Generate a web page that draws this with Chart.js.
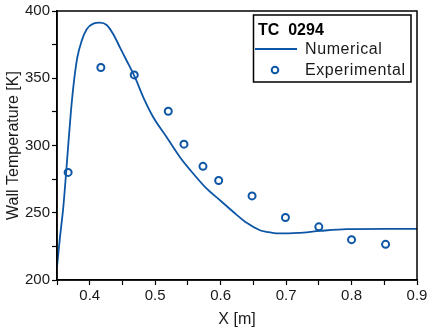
<!DOCTYPE html>
<html>
<head>
<meta charset="utf-8">
<script src="https://cdn.jsdelivr.net/npm/chart.js@4"></script>
<style>
  html, body { margin: 0; padding: 0; background: #fff; }
  #box { width: 431px; height: 333px; }
</style>
</head>
<body>
<div id="box"><canvas id="grafica"></canvas></div>
<script>
// datos
const num_x = [0.35, 0.3546, 0.3596, 0.3638, 0.3673, 0.3714, 0.376, 0.381, 0.3877, 0.3954, 0.4055, 0.4157, 0.4259, 0.436, 0.4463, 0.4565, 0.4692, 0.4819, 0.4971, 0.5176, 0.5379, 0.5583, 0.5787, 0.599, 0.6194, 0.6398, 0.66, 0.6704, 0.6877, 0.7182, 0.7518, 0.7926, 0.85, 0.9]
const num_y = [210, 232, 254, 279, 301, 326, 348, 365.4, 377.8, 386.4, 390.6, 391.3, 389.6, 382.7, 372.8, 363, 350.6, 335.8, 321, 306.2, 291.3, 279, 267.9, 259.3, 250.6, 242.5, 237, 235.8, 234.6, 235, 236.5, 237.8, 238, 238]
const exp_x = [0.367, 0.417, 0.468, 0.52, 0.544, 0.573, 0.597, 0.648, 0.699, 0.75, 0.8, 0.852]
const exp_y = [280, 358, 352.5, 325.5, 301, 284.5, 274, 262.5, 246.5, 239.5, 230, 226.5]
const x_ticks = [0.4, 0.5, 0.6, 0.7, 0.8, 0.9]
const y_ticks = [200, 250, 300, 350, 400]

const azul = '#0d56a6'
const texto = '#1a1a1a'
const fuente = "'Liberation Sans', Arial, sans-serif"

// marco del area y leyenda
const marco = {
    id: 'marco',
    afterDraw(chart) {
        const ctx = chart.ctx
        const a = chart.chartArea
        ctx.save()
        ctx.strokeStyle = '#000'
        ctx.lineWidth = 1.5
        ctx.strokeRect(a.left, a.top, a.right - a.left, a.bottom - a.top)

        // leyenda
        ctx.fillStyle = '#fff'
        ctx.fillRect(253.5, 15, 157.5, 67)
        ctx.strokeRect(253.5, 15, 157.5, 67)
        ctx.fillStyle = '#000'
        ctx.textBaseline = 'middle'
        ctx.font = "bold 16px " + fuente
        ctx.fillText('TC  0294', 258, 31)
        ctx.strokeStyle = azul
        ctx.lineWidth = 2
        ctx.beginPath()
        ctx.moveTo(255, 49)
        ctx.lineTo(297, 49)
        ctx.stroke()
        ctx.beginPath()
        ctx.arc(275, 70, 3.3, 0, Math.PI * 2)
        ctx.fillStyle = '#fff'
        ctx.fill()
        ctx.stroke()
        ctx.fillStyle = texto
        ctx.font = "16px " + fuente
        ctx.letterSpacing = '0.6px'
        ctx.fillText('Numerical', 305, 50)
        ctx.fillText('Experimental', 305, 71)
        ctx.restore()
    }
}

new Chart(document.getElementById('grafica'), {
    type: 'scatter',
    data: {
        datasets: [{
            label: 'Numerical',
            type: 'line',
            data: num_x.map((x, i) => ({x: x, y: num_y[i]})),
            borderColor: azul,
            borderWidth: 1.8,
            pointRadius: 0,
            cubicInterpolationMode: 'monotone',
            fill: false
        }, {
            label: 'Experimental',
            data: exp_x.map((x, i) => ({x: x, y: exp_y[i]})),
            borderColor: azul,
            backgroundColor: '#fff',
            borderWidth: 2,
            pointRadius: 3.5,
            pointStyle: 'circle'
        }]
    },
    options: {
        responsive: true,
        maintainAspectRatio: false,
        animation: false,
        layout: { padding: { top: 10, right: 14, left: 0, bottom: 0 } },
        scales: {
            x: {
                type: 'linear',
                min: 0.35,
                max: 0.9,
                afterFit: (s) => { s.height = 53 },
                afterBuildTicks: (s) => { s.ticks = [0.35, 0.4, 0.45, 0.5, 0.55, 0.6, 0.65, 0.7, 0.75, 0.8, 0.85, 0.9].map(v => ({value: v})) },
                ticks: {
                    color: texto,
                    font: { size: 15, family: fuente },
                    padding: 2,
                    maxRotation: 0,
                    autoSkip: false,
                    callback: (v) => {
                        const t = x_ticks.find(k => Math.abs(k - v) < 1e-6)
                        return t === undefined ? '' : t.toFixed(1)
                    }
                },
                grid: { drawOnChartArea: false, tickLength: 5, color: '#000', tickWidth: 1.2 },
                border: { color: '#000', width: 1.5 },
                title: { display: true, text: 'X [m]', color: texto, font: { size: 16, family: fuente }, padding: { top: 2 } }
            },
            y: {
                min: 200,
                max: 400,
                afterFit: (s) => { s.width = 57 },
                afterBuildTicks: (s) => { s.ticks = [200, 225, 250, 275, 300, 325, 350, 375, 400].map(v => ({value: v})) },
                ticks: {
                    color: texto,
                    font: { size: 15, family: fuente },
                    padding: 2,
                    autoSkip: false,
                    callback: (v) => y_ticks.includes(v) ? String(v) : ''
                },
                grid: { drawOnChartArea: false, tickLength: 5, color: '#000', tickWidth: 1.2 },
                border: { color: '#000', width: 1.5 },
                title: { display: true, text: 'Wall Temperature [K]', color: texto, font: { size: 16, family: fuente }, padding: { bottom: 2 } }
            }
        },
        plugins: {
            legend: { display: false },
            tooltip: { enabled: false }
        }
    },
    plugins: [marco]
});
</script>
</body>
</html>
